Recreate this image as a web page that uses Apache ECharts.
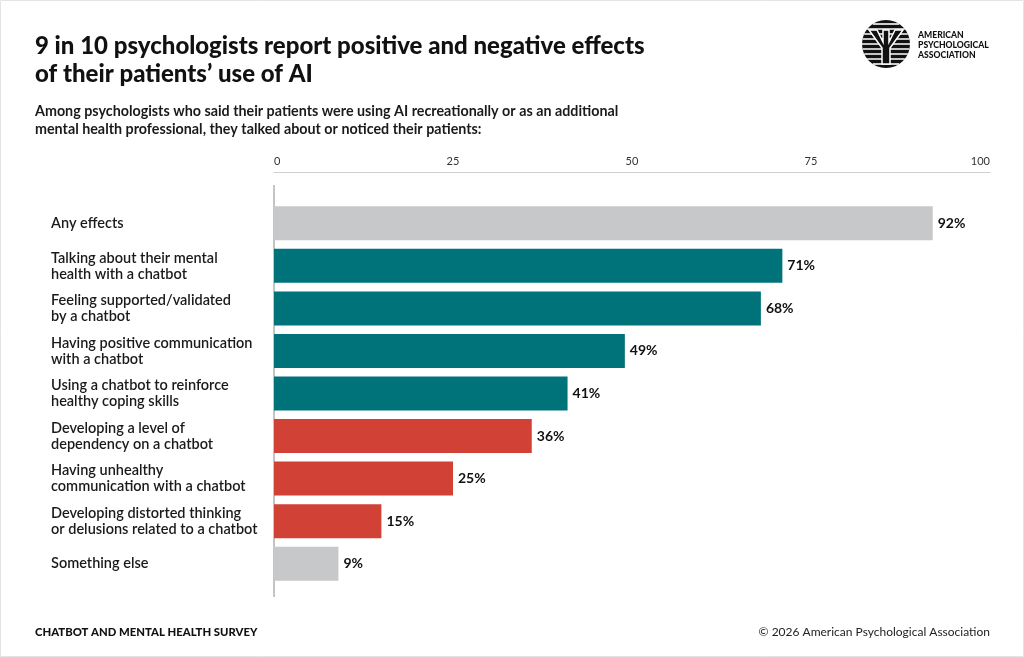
<!DOCTYPE html>
<html><head><meta charset="utf-8">
<script src="https://cdn.jsdelivr.net/npm/echarts@6/dist/echarts.min.js"></script>
<style>html,body{margin:0;padding:0;background:#fff}#c{width:1024px;height:657px}</style>
</head><body><div id="c"></div>
<script>
var categories = [
  "Any effects",
  "Talking about their mental\nhealth with a chatbot",
  "Feeling supported/validated\nby a chatbot",
  "Having positive communication\nwith a chatbot",
  "Using a chatbot to reinforce\nhealthy coping skills",
  "Developing a level of\ndependency on a chatbot",
  "Having unhealthy\ncommunication with a chatbot",
  "Developing distorted thinking\nor delusions related to a chatbot",
  "Something else"
];
var values = [92, 71, 68, 49, 41, 36, 25, 15, 9];
var groups = ["other","positive","positive","positive","positive","negative","negative","negative","other"];
var tickValues = [0, 25, 50, 75, 100];
var palette = {other:"#c7c8c9", positive:"#00737a", negative:"#d24136"};

var chart = echarts.init(document.getElementById('c'));
var F = "Lato, 'Noto Sans', sans-serif";

// logo stripes
var logo = [];
var cx = 886, cy = 44, r = 24;
logo.push({type:'circle', shape:{cx:cx, cy:cy, r:r}, style:{fill:'#111'}});
for (var yy = -20; yy <= 20; yy += 5) {
  var half = Math.sqrt(r*r - yy*yy);
  logo.push({type:'line', shape:{x1:cx-half, y1:cy+yy, x2:cx+half, y2:cy+yy}, style:{stroke:'#fff', lineWidth:1.6}});
}
logo.push({type:'polygon', shape:{points:[[cx-17,cy-14],[cx-9,cy-14],[cx-3,cy-2],[cx-3,cy-14],[cx+3,cy-14],[cx+3,cy-2],[cx+9,cy-14],[cx+17,cy-14],[cx+4,cy+4],[cx+4,cy+20],[cx-4,cy+20],[cx-4,cy+4]]}, style:{fill:'#111', stroke:'#fff', lineWidth:1.5}});

chart.setOption({
  backgroundColor:'#fff',
  animation:false,
  grid:{left:274, right:34, top:202, bottom:72, containLabel:false},
  xAxis:{
    type:'value', position:'top', min:0, max:100, interval:25, offset:30,
    axisLine:{show:true, lineStyle:{color:'#cfcfcf', width:1}},
    axisTick:{show:false}, splitLine:{show:false},
    axisLabel:{color:'#333', fontSize:11, fontFamily:F, margin:5, alignMinLabel:'left', alignMaxLabel:'right',
      customValues: tickValues}
  },
  yAxis:{
    type:'category', inverse:true, data:categories,
    axisLine:{show:false}, axisTick:{show:false},
    axisLabel:{color:'#1a1a1a', fontSize:14.5, fontFamily:F, fontWeight:600, align:'left', margin:223, lineHeight:16}
  },
  series:[{
    type:'bar', barWidth:34,
    data: values.map(function(v,i){return {value:v, itemStyle:{color:palette[groups[i]]}};}),
    label:{show:true, position:'right', distance:5, formatter:'{c}%', color:'#111', fontSize:14, fontWeight:'bold', fontFamily:F}
  }],
  graphic:[
    {type:'rect', shape:{x:0.5, y:0.5, width:1023, height:656}, style:{fill:'none', stroke:'#e4e4e4', lineWidth:1}},
    {type:'line', shape:{x1:274, y1:185, x2:274, y2:597}, style:{stroke:'#8a8a8a', lineWidth:1}},
    {type:'text', left:35, top:32, style:{text:'9 in 10 psychologists report positive and negative effects\nof their patients\u2019 use of AI', font:"900 24px "+F, fill:'#111', lineHeight:28}},
    {type:'text', left:35, top:102, style:{text:'Among psychologists who said their patients were using AI recreationally or as an additional\nmental health professional, they talked about or noticed their patients:', font:"bold 14.3px "+F, fill:'#1a1a1a', lineHeight:18}},
    {type:'text', left:35, top:627, style:{text:'CHATBOT AND MENTAL HEALTH SURVEY', font:"900 11.3px "+F, fill:'#111'}},
    {type:'text', right:34, top:626, style:{text:'\u00a9 2026 American Psychological Association', font:"12px "+F, fill:'#222'}},
    {type:'group', children:logo},
    {type:'text', left:918, top:30, style:{text:'AMERICAN\nPSYCHOLOGICAL\nASSOCIATION', font:"900 8.6px "+F, fill:'#111', lineHeight:10}}
  ]
});
</script></body></html>
